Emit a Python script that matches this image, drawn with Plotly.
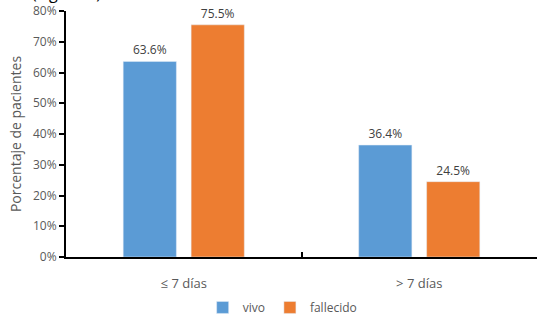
import plotly.graph_objects as go

categories = ["≤ 7 días", "> 7 días"]
vivo = [63.6, 36.4]
fallecido = [75.5, 24.5]
y_ticks = [0, 10, 20, 30, 40, 50, 60, 70, 80]

BLUE = "#5B9BD5"
ORANGE = "#ED7D31"
GRAY = "#595959"
FONT = "Open Sans"

fig = go.Figure()
fig.add_trace(go.Bar(
    name="vivo", x=categories, y=vivo, marker_color=BLUE,
    text=[f"{v:.1f}%" for v in vivo], textposition="outside",
    textfont=dict(color="#404040", size=12, family=FONT), cliponaxis=False,
))
fig.add_trace(go.Bar(
    name="fallecido", x=categories, y=fallecido, marker_color=ORANGE,
    text=[f"{v:.1f}%" for v in fallecido], textposition="outside",
    textfont=dict(color="#404040", size=12, family=FONT), cliponaxis=False,
))

fig.update_layout(
    width=537, height=322,
    margin=dict(l=66, r=0, t=11, b=63),
    paper_bgcolor="white", plot_bgcolor="white",
    barmode="group", bargap=0.423, bargroupgap=0.217,
    font=dict(family=FONT, color=GRAY, size=12),
    showlegend=True,
    legend=dict(orientation="h", x=0.46, xanchor="center", y=-0.205, yanchor="middle",
                font=dict(size=12, color=GRAY), tracegroupgap=0,
                itemwidth=30),
)
fig.update_yaxes(
    range=[0, 80], tickvals=y_ticks, ticktext=[f"{v}%" for v in y_ticks],
    showgrid=False, zeroline=False, showline=True, linecolor="black", linewidth=2,
    ticks="outside", ticklen=5, tickwidth=2, tickcolor="black",
    tickfont=dict(size=12, color=GRAY),
    title=dict(text="Porcentaje de pacientes", font=dict(size=14, color=GRAY), standoff=8),
)
fig.update_xaxes(
    showgrid=False, showline=True, linecolor="black", linewidth=1.5,
    ticks="inside", tickson="boundaries", ticklen=5, tickwidth=2, tickcolor="black",
    tickfont=dict(size=13, color=GRAY), ticklabelstandoff=14,
)
fig.add_annotation(text="(Figura 3).", xref="paper", yref="paper", x=-0.076, y=1.02,
                   xanchor="left", yanchor="bottom", showarrow=False,
                   font=dict(size=16, color="black", family=FONT))

fig.write_html("out.html")
